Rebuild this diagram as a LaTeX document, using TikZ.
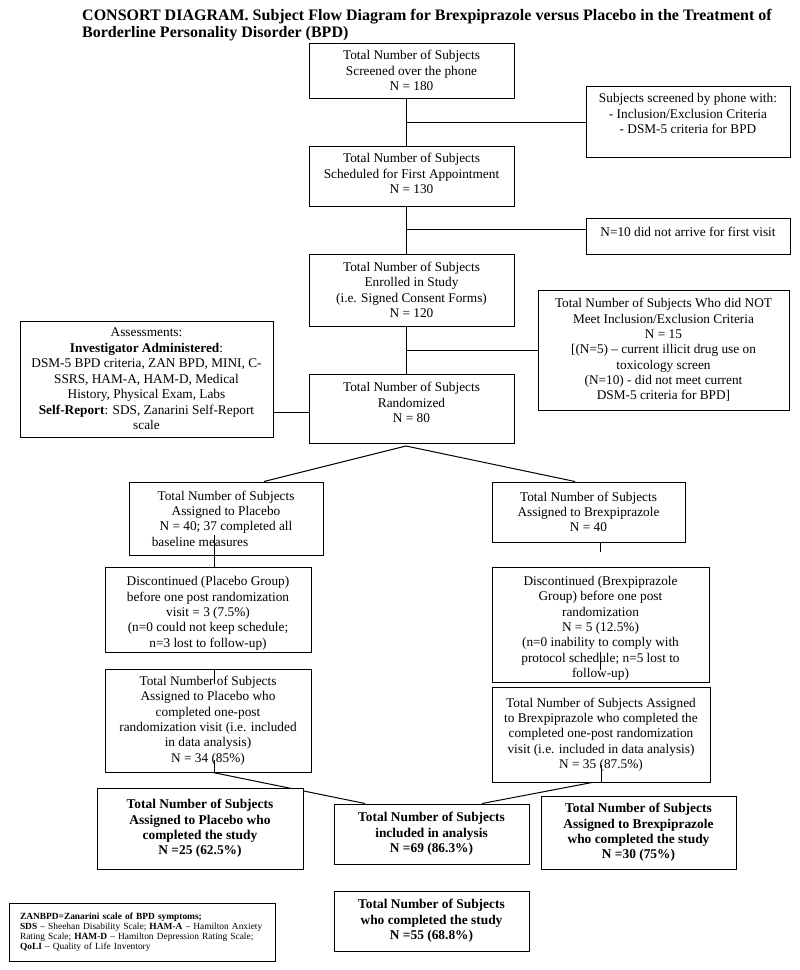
\documentclass[tikz,border=0pt]{standalone}
\usepackage{fontspec}
\setmainfont{Liberation Serif}
\usetikzlibrary{calc}
\pgfdeclarelayer{bg}
\pgfsetlayers{bg,main}
\newcommand{\firstup}[1]{\rule{0pt}{#1}}
\tikzset{
  box/.style={draw=black, line width=1pt, fill=white, align=center, inner sep=1pt,
    font=\fontsize{13.3}{15.3}\selectfont},
  bbox/.style={box, font=\fontsize{13.4}{15.4}\selectfont\bfseries},
  conn/.style={draw=black, line width=1pt},
}
\begin{document}
\begin{tikzpicture}[x=1pt,y=-1pt]
\useasboundingbox (0,0) rectangle (800,970);

% title
\node[anchor=north west, inner sep=0pt, align=left, font=\fontsize{16}{17}\selectfont\bfseries] (title) at (82,9.1)
 {CONSORT DIAGRAM. Subject Flow Diagram for Brexpiprazole versus Placebo in the Treatment of\\
  Borderline Personality Disorder (BPD)};

% main column
\node[box, minimum width=205pt, minimum height=55pt] (A) at (411.5,70.5)
 {Total Number of Subjects\\ Screened over the phone\\ N = 180};
\node[box, minimum width=204pt, minimum height=71pt, text depth=16pt] (B) at (688,121.5)
 {Subjects screened by phone with:\\ - Inclusion/Exclusion Criteria\\ - DSM-5 criteria for BPD};
\node[box, minimum width=205pt, minimum height=60pt, text depth=5pt] (C) at (411.5,176)
 {Total Number of Subjects\\ Scheduled for First Appointment\\ N = 130};
\node[box, minimum width=204pt, minimum height=36pt, text depth=9pt] (D) at (688,236)
 {N=10 did not arrive for first visit};
\node[box, minimum width=205pt, minimum height=72pt] (E) at (411.5,290)
 {Total Number of Subjects\\ Enrolled in Study\\ (i.e. Signed Consent Forms)\\ N = 120};
\node[box, minimum width=251pt, minimum height=120pt] (F) at (663.5,350)
 {Total Number of Subjects Who did NOT\\ Meet Inclusion/Exclusion Criteria\\ N = 15\\
  {[}(N=5) – current illicit drug use on\\ toxicology screen\\ (N=10) - did not meet current\\ DSM-5 criteria for BPD]};
\node[box, minimum width=253pt, minimum height=116pt, font=\fontsize{13.3}{15.5}\selectfont] (G) at (146.5,379)
 {Assessments:\\ \textbf{Investigator Administered}:\\ DSM-5 BPD criteria, ZAN BPD, MINI, C-\\
  SSRS, HAM-A, HAM-D, Medical\\ History, Physical Exam, Labs\\ \textbf{Self-Report}: SDS, Zanarini Self-Report\\ scale};
\node[box, minimum width=205pt, minimum height=69pt, text depth=12pt] (H) at (411.5,408.5)
 {Total Number of Subjects\\ Randomized\\ N = 80};

% arms
\node[box, minimum width=194pt, minimum height=73pt] (I) at (226,518.5)
 {Total Number of Subjects\\ Assigned to Placebo\\ N = 40; 37 completed all\\ baseline measures\hspace*{52pt}};
\node[box, minimum width=193pt, minimum height=60pt] (J) at (588.5,512)
 {Total Number of Subjects\\ Assigned to Brexpiprazole\\ N = 40};
\node[box, minimum width=206pt, minimum height=85pt] (K) at (208,609.5)
 {\firstup{17pt}Discontinued (Placebo Group)\\ before one post randomization\\ visit = 3 (7.5\%)\\
  (n=0 could not keep schedule;\\ n=3 lost to follow-up)};
\node[box, minimum width=217pt, minimum height=115pt] (L) at (600.5,624.5)
 {\firstup{17pt}Discontinued (Brexpiprazole\\ Group) before one post\\ randomization\\ N = 5 (12.5\%)\\
  (n=0 inability to comply with\\ protocol schedule; n=5 lost to\\ follow-up)};
\node[box, minimum width=206pt, minimum height=103pt] (M) at (208,720.5)
 {Total Number of Subjects\\ Assigned to Placebo who\\ completed one-post\\ randomization visit (i.e. included\\
  in data analysis)\\ N = 34 (85\%)};
\node[box, minimum width=218pt, minimum height=95pt] (N) at (601,734.5)
 {Total Number of Subjects Assigned\\ to Brexpiprazole who completed the\\ completed one-post randomization\\
  visit (i.e. included in data analysis)\\ N = 35 (87.5\%)};

% results
\node[bbox, minimum width=206pt, minimum height=81pt] (P) at (200,828.5)
 {Total Number of Subjects\\ Assigned to Placebo who\\ completed the study\\ N =25 (62.5\%)};
\node[bbox, minimum width=195pt, minimum height=60pt] (O) at (431.5,834)
 {Total Number of Subjects\\ included in analysis\\ N =69 (86.3\%)};
\node[bbox, minimum width=195pt, minimum height=73pt] (Q) at (638.5,832.5)
 {Total Number of Subjects\\ Assigned to Brexpiprazole\\ who completed the study\\ N =30 (75\%)};
\node[bbox, minimum width=195pt, minimum height=60pt] (S) at (431.5,921)
 {Total Number of Subjects\\ who completed the study\\ N =55 (68.8\%)};
\node[box, minimum width=266pt, minimum height=58pt, text width=244pt, align=left,
      font=\fontsize{9.4}{10.2}\selectfont] (R) at (142,932)
 {\textbf{ZANBPD=Zanarini scale of BPD symptoms;}\\
  \textbf{SDS} – Sheehan Disability Scale; \textbf{HAM-A} – Hamilton Anxiety\\
  Rating Scale; \textbf{HAM-D} – Hamilton Depression Rating Scale;\\
  \textbf{QoLI} – Quality of Life Inventory};

% coordinates for connectors
\coordinate (mx) at (406,0);
\coordinate (jB) at (406,122);
\coordinate (jD) at (406,229);
\coordinate (jF) at (406,350);
\coordinate (gh) at (0,412);
\coordinate (apex) at (406,446);
\coordinate (bIx) at (264,0);
\coordinate (bJx) at (575,0);
\coordinate (mo) at (213,0);
\coordinate (om) at (365,0);
\coordinate (no) at (592,0);
\coordinate (on) at (482,0);

\begin{pgfonlayer}{bg}
\fill[white] (0,0) rectangle (800,970);
\draw[conn] (A.south -| mx) -- (C.north -| mx);
\draw[conn] (C.south -| mx) -- (E.north -| mx);
\draw[conn] (E.south -| mx) -- (H.north -| mx);
\draw[conn] (jB) -- (B.west |- jB);
\draw[conn] (jD) -- (D.west |- jD);
\draw[conn] (jF) -- (F.west |- jF);
\draw[conn] (G.east |- gh) -- (H.west |- gh);
\draw[conn] (I.north -| bIx) -- (apex) -- (J.north -| bJx);
\draw[conn] (M.south -| mo) -- (O.north -| om);
\draw[conn] (N.south -| no) -- (O.north -| on);
\end{pgfonlayer}

% short connector pieces drawn over boxes
\coordinate (ik) at (214,535);
\coordinate (js1) at (600,543);
\coordinate (js2) at (600,552);
\coordinate (ls1) at (600,652);
\coordinate (ls2) at (600,670);
\coordinate (mt) at (214,684);
\coordinate (mb) at (214,760);
\coordinate (nb) at (601,765);
\draw[conn] (ik) -- (K.north -| ik);
\draw[conn] (js1) -- (js2);
\draw[conn] (ls1) -- (ls2);
\draw[conn] (M.north -| mt) -- (mt);
\draw[conn] (mb) -- (M.south -| mb);
\draw[conn] (nb) -- (N.south -| nb);
\end{tikzpicture}
\end{document}
